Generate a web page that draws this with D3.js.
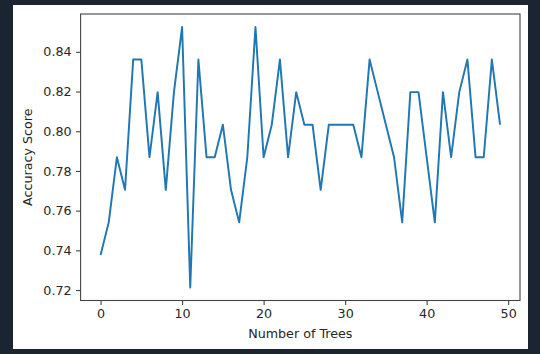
<!DOCTYPE html>
<html>
<head>
<meta charset="utf-8">
<script src="https://cdn.jsdelivr.net/npm/d3@7"></script>
<style>
  html, body { margin: 0; padding: 0; background: #1b2431; }
  svg { display: block; }
  .tick text { font-family: "DejaVu Sans", sans-serif; font-size: 12.7px; fill: #262626; }
  .axis-label { font-family: "DejaVu Sans", sans-serif; font-size: 12.7px; fill: #262626; }
</style>
</head>
<body>
<script>
// number of trees (x) and accuracy score (y)
const trees = [0, 1, 2, 3, 4, 5, 6, 7, 8, 9,
  10, 11, 12, 13, 14, 15, 16, 17, 18, 19,
  20, 21, 22, 23, 24, 25, 26, 27, 28, 29,
  30, 31, 32, 33, 34, 35, 36, 37, 38, 39,
  40, 41, 42, 43, 44, 45, 46, 47, 48, 49];

const accuracy = [0.7377, 0.7541, 0.7869, 0.7705, 0.8361, 0.8361, 0.7869, 0.8197, 0.7705, 0.8197,
  0.8525, 0.7213, 0.8361, 0.7869, 0.7869, 0.8033, 0.7705, 0.7541, 0.7869, 0.8525,
  0.7869, 0.8033, 0.8361, 0.7869, 0.8197, 0.8033, 0.8033, 0.7705, 0.8033, 0.8033,
  0.8033, 0.8033, 0.7869, 0.8361, 0.8197, 0.8033, 0.7869, 0.7541, 0.8197, 0.8197,
  0.7869, 0.7541, 0.8197, 0.7869, 0.8197, 0.8361, 0.7869, 0.7869, 0.8361, 0.8033];

const xTicks = [0, 10, 20, 30, 40, 50];
const yTicks = [0.72, 0.74, 0.76, 0.78, 0.80, 0.82, 0.84];

const W = 540, H = 354;
const plot = {left: 80.6, right: 520, top: 14, bottom: 300.5};

const svg = d3.select('body').append('svg')
  .attr('width', W)
  .attr('height', H);

// dark frame with white figure
svg.append('rect').attr('width', W).attr('height', H).attr('fill', '#1b2431');
svg.append('rect')
  .attr('x', 13).attr('y', 5)
  .attr('width', 515).attr('height', 344)
  .attr('fill', '#ffffff');

// matplotlib style 5% margins
const padded = (lo, hi) => {
  const m = (hi - lo) * 0.05;
  return [lo - m, hi + m];
};

const x = d3.scaleLinear()
  .domain(padded(d3.min(trees), d3.max(trees)))
  .range([plot.left, plot.right]);

const y = d3.scaleLinear()
  .domain(padded(d3.min(accuracy), d3.max(accuracy)))
  .range([plot.bottom, plot.top]);

// axes
const xAxis = d3.axisBottom(x).tickValues(xTicks).tickSize(4.5).tickPadding(4).tickFormat(d3.format('d'));
const yAxis = d3.axisLeft(y).tickValues(yTicks).tickSize(4.5).tickPadding(4.5).tickFormat(d3.format('.2f'));

const gx = svg.append('g')
  .attr('transform', `translate(0,${plot.bottom})`)
  .call(xAxis);
const gy = svg.append('g')
  .attr('transform', `translate(${plot.left},0)`)
  .call(yAxis);

[gx, gy].forEach(g => {
  g.select('.domain').remove();
  g.selectAll('.tick line').attr('stroke', '#444').attr('stroke-width', 1.1);
});

// the line
const line = d3.line()
  .x((d, i) => x(trees[i]))
  .y(d => y(d));

svg.append('path')
  .datum(accuracy)
  .attr('fill', 'none')
  .attr('stroke', '#1f77b4')
  .attr('stroke-width', 1.95)
  .attr('stroke-linejoin', 'round')
  .attr('d', line);

// axes frame
svg.append('rect')
  .attr('x', plot.left).attr('y', plot.top)
  .attr('width', plot.right - plot.left)
  .attr('height', plot.bottom - plot.top)
  .attr('fill', 'none')
  .attr('stroke', '#444')
  .attr('stroke-width', 1.1);

// axis labels
svg.append('text')
  .attr('class', 'axis-label')
  .attr('x', (plot.left + plot.right) / 2)
  .attr('y', 338)
  .attr('text-anchor', 'middle')
  .text('Number of Trees');

svg.append('text')
  .attr('class', 'axis-label')
  .attr('transform', `translate(31.5,${(plot.top + plot.bottom) / 2}) rotate(-90)`)
  .attr('text-anchor', 'middle')
  .text('Accuracy Score');
</script>
</body>
</html>
